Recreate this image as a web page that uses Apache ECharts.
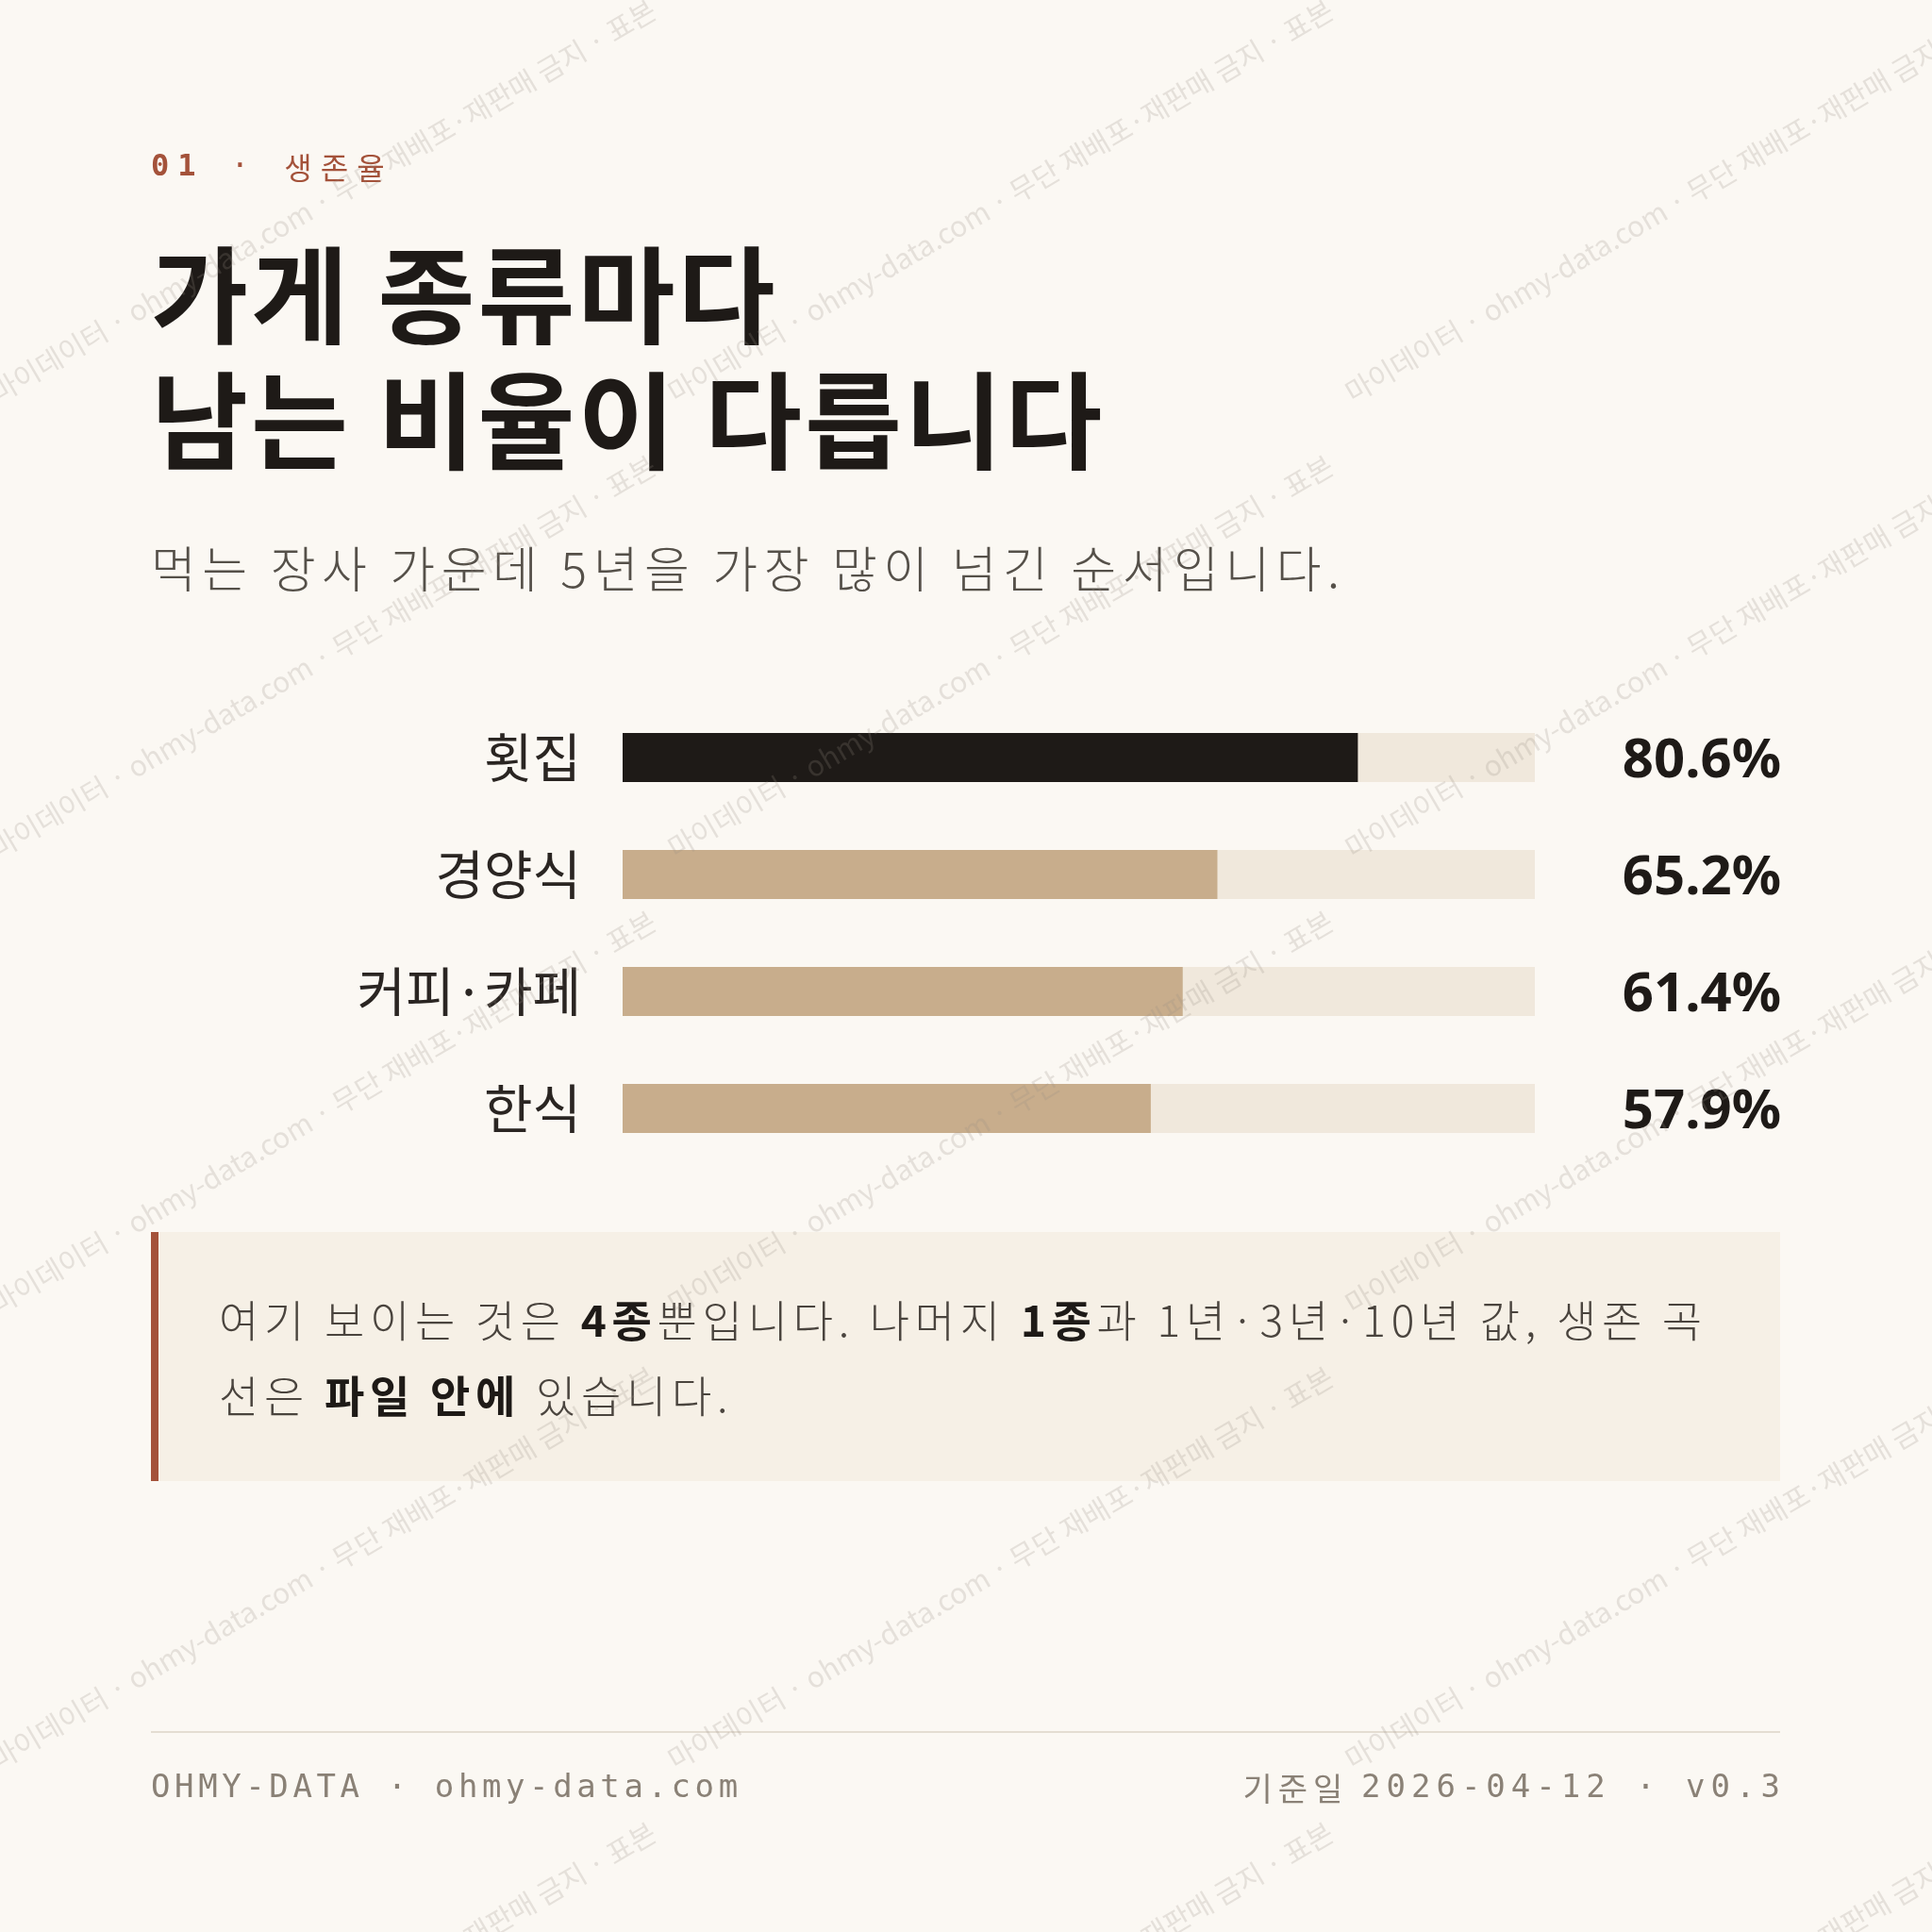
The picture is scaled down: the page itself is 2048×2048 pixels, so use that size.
<!DOCTYPE html>
<html><head><meta charset="utf-8">
<script src="https://cdn.jsdelivr.net/npm/echarts@6/dist/echarts.min.js"></script>
<style>html,body{margin:0;padding:0;background:#fbf8f3}#c{width:2048px;height:2048px}</style>
</head><body><div id="c"></div>
<script>
const categories = ['횟집', '경양식', '커피·카페', '한식'];
const values = [80.6, 65.2, 61.4, 57.9];
const valueLabels = ['80.6%', '65.2%', '61.4%', '57.9%'];
const trackMax = 100;

const KR = '"Noto Sans CJK KR","Noto Sans",sans-serif';
const MONO = '"DejaVu Sans Mono","Liberation Mono",monospace';

const ctx = document.createElement('canvas').getContext('2d');
function measure(ch, font){ ctx.font = font; return ctx.measureText(ch).width; }
// segments: [[text, font, fill], ...]
function spaced(x, y, segs, sp, alignRight){
  const chars = [];
  segs.forEach(s => { for (const ch of s[0]) chars.push([ch, s[1], s[2]]); });
  let total = 0;
  chars.forEach(c => { total += measure(c[0], c[1]) + sp; });
  total -= sp;
  let cx = alignRight ? x - total : x;
  const out = [];
  chars.forEach(c => {
    out.push({type:'text', x:cx, y:y, silent:true, style:{text:c[0], font:c[1], fill:c[2], textVerticalAlign:'middle'}});
    cx += measure(c[0], c[1]) + sp;
  });
  return out;
}

const chart = echarts.init(document.getElementById('c'));
const wm = [];
const wmText = '마이데이터 · ohmy-data.com · 무단 재배포·재판매 금지 · 표본';
for (let i = -1; i < 4; i++) {
  for (let j = -1; j < 5; j++) {
    wm.push({type:'text', x: i*718, y: 431 + j*483, rotation: 0.53, silent:true, z:100,
      style:{text: wmText, font:'30px '+KR, fill:'rgba(150,140,130,0.22)', textVerticalAlign:'bottom'}});
  }
}
const ACC = '#a4523a';
const N46 = '300 46px '+KR, B46 = 'bold 46px '+KR, NC='#4a443e', BC='#1e1a17';
const FC = '#8a8176';
chart.setOption({
  backgroundColor:'#fbf8f3',
  animation:false,
  grid:{left:660, right:421, top:741, bottom:811},
  xAxis:{type:'value', min:0, max:100, show:false},
  yAxis:{type:'category', data:categories, inverse:true,
    axisLine:{show:false}, axisTick:{show:false},
    axisLabel:{margin:44, fontSize:56, fontFamily:KR, color:'#2a2522'}},
  series:[
    {type:'bar', data:categories.map(()=>trackMax), barWidth:52, barGap:'-100%', silent:true,
      itemStyle:{color:'#f0e8dc'},
      label:{show:true, position:'insideRight', offset:[266,4], fontSize:58, fontWeight:'bold', fontFamily:'"Noto Sans",'+KR, color:'#1e1a17',
        formatter:p=>valueLabels[p.dataIndex]}},
    {type:'bar', data:values.map((v,i)=>({value:v, itemStyle:{color:i===0?'#1e1a17':'#c8ad8c'}})), barWidth:52, z:3}
  ],
  graphic:[
    ...spaced(160, 178, [['01', 'bold 32px '+MONO, ACC], [' · ', '32px '+MONO, ACC], ['생존율', '32px '+KR, ACC]], 9),
    ...spaced(160, 313, [['가게 종류마다', 'bold 112px '+KR, '#1e1a17']], 3),
    ...spaced(160, 446, [['남는 비율이 다릅니다', 'bold 112px '+KR, '#1e1a17']], 3),
    ...spaced(160, 603, [['먹는 장사 가운데 5년을 가장 많이 넘긴 순서입니다.', '300 52px '+KR, '#555049']], 6.5),
    {type:'rect', shape:{x:160, y:1306, width:1727, height:264}, style:{fill:'#f6f0e6'}},
    {type:'rect', shape:{x:160, y:1306, width:8, height:264}, style:{fill:ACC}},
    ...spaced(232, 1400, [['여기 보이는 것은 ', N46, NC], ['4종', B46, BC], ['뿐입니다. 나머지 ', N46, NC], ['1종', B46, BC], ['과 1년·3년·10년 값, 생존 곡', N46, NC]], 5.7),
    ...spaced(232, 1480, [['선은 ', N46, NC], ['파일 안에', B46, BC], [' 있습니다.', N46, NC]], 5.7),
    {type:'rect', shape:{x:160, y:1835, width:1727, height:2}, style:{fill:'#e4ddd2'}},
    ...spaced(160, 1896, [['OHMY-DATA · ohmy-data.com', '34px '+MONO, FC]], 4.6),
    ...spaced(1887, 1896, [['기준일 ', '34px '+KR, FC], ['2026-04-12 · v0.3', '34px '+MONO, FC]], 6, true),
    ...wm
  ]
});
</script></body></html>
